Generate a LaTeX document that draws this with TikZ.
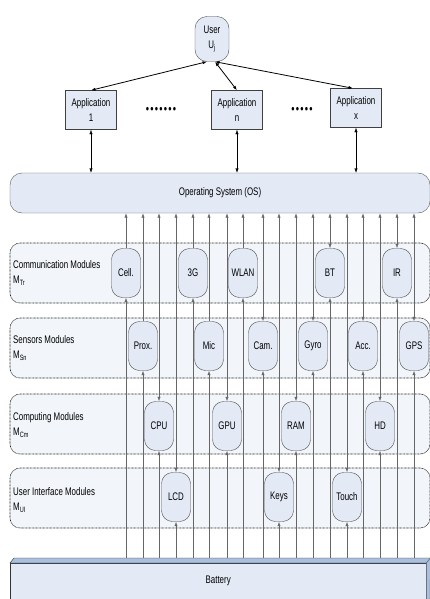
\documentclass[tikz,border=0pt]{standalone}
\usepackage{fontspec}
\setmainfont{Liberation Sans}[FakeStretch=0.72]
\usetikzlibrary{arrows.meta,positioning,calc}
\definecolor{boxfill}{HTML}{E3EAF6}
\definecolor{rowfill}{HTML}{F2F5FA}
\definecolor{batedge}{HTML}{A9BFDD}
\newcommand\dotrow[1]{\foreach \i in {1,...,#1}{\textbullet\hspace{1.2pt}}}

\begin{document}
\begin{tikzpicture}[x=1pt,y=-1pt,font=\fontsize{11}{15}\selectfont,
        >={Latex[length=4.5pt,width=3.2pt]},
        module/.style={draw=black!70,fill=boxfill,rounded corners=11pt,minimum width=29pt,minimum height=49pt,inner sep=1pt},
        app/.style={draw=black!75,fill=boxfill,minimum width=51pt,minimum height=39pt,align=center,inner sep=1pt},
        row/.style={draw=black!85,line width=0.6pt,dash pattern=on 0.8pt off 0.6pt,fill=rowfill,rounded corners=10pt,minimum width=420pt,minimum height=60pt},
        rowlabel/.style={anchor=west,align=left,inner sep=0pt,font=\fontsize{11}{14.5}\selectfont},
        wire/.style={black!60,line width=0.5pt}]
        \useasboundingbox (0,0) rectangle (430,599);
        % layers of modules
        \node[row] (rowtr) at (220,273) {};
        \node[row] (rowsn) at (220,348) {};
        \node[row] (rowcm) at (220,424) {};
        \node[row] (rowui) at (220,498) {};
        \node[rowlabel] (labtr) at (13,273) {Communication Modules\\M\textsubscript{Tr}};
        \node[rowlabel] (labsn) at (13,348) {Sensors Modules\\M\textsubscript{Sn}};
        \node[rowlabel] (labcm) at (13,425) {Computing Modules\\M\textsubscript{Cm}};
        \node[rowlabel] (labui) at (13,500) {User Interface Modules\\M\textsubscript{UI}};
        \node[module] (cell) at (126,273) {Cell.};
        \node[module] (tg) at (193,273) {3G};
        \node[module] (wlan) at (243,273) {WLAN};
        \node[module] (bt) at (330,273) {BT};
        \node[module] (ir) at (397,273) {IR};
        \node[module] (prox) at (143,346) {Prox.};
        \node[module] (mic) at (209,346) {Mic};
        \node[module] (cam) at (263,346) {Cam.};
        \node[module] (gyro) at (313,346) {Gyro};
        \node[module] (acc) at (363,346) {Acc.};
        \node[module] (gps) at (414,346) {GPS};
        \node[module] (cpu) at (159,426) {CPU};
        \node[module] (gpu) at (227,426) {GPU};
        \node[module] (ram) at (296,426) {RAM};
        \node[module] (hd) at (380,426) {HD};
        \node[module] (lcd) at (176,497) {LCD};
        \node[module] (keys) at (279,497) {Keys};
        \node[module] (touch) at (347,497) {Touch};
        % OS, applications, user
        \node[draw=black!65,fill=boxfill,rounded corners=12pt,minimum width=420pt,minimum height=40pt] (os) at (220,193) {Operating System (OS)};
        \node[app] (app1) at (91,110) {Application\\1};
        \node[app] (appn) at (237,110) {Application\\n};
        \node[app] (appx) at (356,108) {Application\\x};
        \node[font=\fontsize{13}{15}\selectfont] (dotsa) at (161,110) {\dotrow{7}};
        \node[font=\fontsize{13}{15}\selectfont] (dotsb) at (302,110) {\dotrow{5}};
        \node[module,minimum width=34pt,minimum height=45pt,rounded corners=12pt,align=center] (user) at (212,39) {User\\U\textsubscript{j}};
        \draw[<->,thick] ([xshift=-5pt]user.south) -- (app1.north);
        \draw[<->,thick] ([xshift=3pt]user.south) -- (appn.north);
        \draw[<->,thick] ([xshift=3pt]user.south) -- ([xshift=-3pt]appx.north);
        \draw[<->] (app1.south) -- (app1.south |- os.north);
        \draw[<->] (appn.south) -- (appn.south |- os.north);
        \draw[<->] (appx.south) -- (appx.south |- os.north);
        % battery
        \node[draw=black!80,fill=boxfill,minimum width=416pt,minimum height=36pt,anchor=north west] (bat) at (10,563) {Battery};
        \draw[draw=black!80,fill=batedge] (bat.north west) -- ++(4,-5) -- ([shift={(4,-5)}]bat.north east) -- (bat.north east) -- cycle;
        \draw[draw=black!60,fill=batedge] (bat.north east) -- ++(4,-5) -- (430,599) -- (bat.south east) -- cycle;
        \coordinate (battop) at ([yshift=5pt]bat.north);
        % supply and data lines
        \foreach \m in {cell,tg,wlan,prox,mic} {
            \draw[wire,->] (\m.south |- battop) -- (\m.south);
            \draw[wire,->] (\m.north) -- (\m.north |- os.south);
        }
        \foreach \m in {bt,ir,cam,gyro,acc,gps,cpu,gpu,ram,hd,lcd,keys,touch} {
            \draw[wire,->] (\m.south |- battop) -- (\m.south);
            \draw[wire,<->] (\m.north) -- (\m.north |- os.south);
        }
\end{tikzpicture}
\end{document}
